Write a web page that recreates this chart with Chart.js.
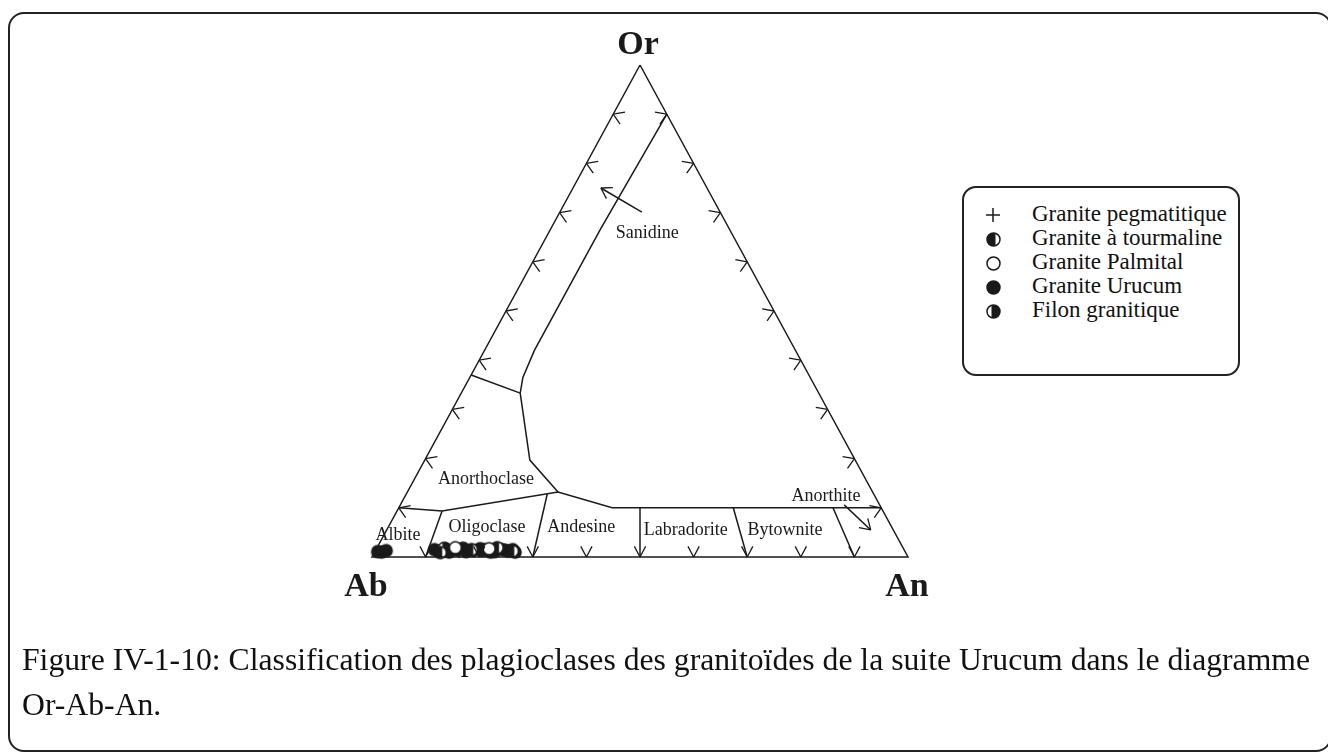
<!DOCTYPE html>
<html>
<head>
<meta charset="utf-8">
<script src="https://cdn.jsdelivr.net/npm/chart.js"></script>
<style>
  html, body { margin: 0; padding: 0; background: #fff; }
  #page { position: relative; width: 1328px; height: 754px; overflow: hidden; background: #fff;
          font-family: "Liberation Serif", "DejaVu Serif", serif; color: #111; }
  #frame { position: absolute; left: 8px; top: 12px; width: 1320px; height: 736px;
           border: 2px solid #222; border-radius: 16px; }
  #chart { position: absolute; left: 0; top: 0; }
  #legend { position: absolute; left: 962px; top: 186px; width: 274px; height: 186px;
            border: 2px solid #222; border-radius: 14px; background: #fff; }
  .item { position: absolute; left: 0; width: 274px; height: 24px; font-size: 23px; line-height: 24px; }
  .item canvas { position: absolute; }
  .item span { position: absolute; left: 68px; white-space: nowrap; }
  #caption { position: absolute; left: 22px; top: 637px; font-size: 31.7px; line-height: 45px; white-space: nowrap; }
</style>
</head>
<body>
<div id="page">
  <div id="frame"></div>
  <canvas id="chart" width="1328" height="754"></canvas>
  <div id="legend"></div>
  <div id="caption">Figure IV-1-10: Classification des plagioclases des granitoïdes de la suite Urucum dans le diagramme<br>Or-Ab-An.</div>
</div>
<script>
// pôles du diagramme
const apexNames = ['Or', 'Ab', 'An'];

// champs (noms + position des étiquettes en % Or / % An)
const fieldNames = ['Sanidine', 'Anorthoclase', 'Albite', 'Oligoclase', 'Andesine', 'Labradorite', 'Bytownite', 'Anorthite'];
const fieldOr = [65.9, 15.9, 4.5, 6.1, 6.1, 5.5, 5.5, 12.4];
const fieldAn = [18.4, 13.3, 2.6, 18.4, 36.0, 55.8, 74.3, 78.5];

// graduations (%) sur les trois côtés
const tickSteps = [10, 20, 30, 40, 50, 60, 70, 80, 90];

// limites des champs (% Or, % An)
const triangleOr = [100, 0, 0, 100];
const triangleAn = [0, 0, 100, 0];
const sanidineOr = [90, 66.5, 42, 36.5, 33.3];
const sanidineAn = [10, 9.3, 9.3, 9.9, 11];
const anorthoclaseLeftOr = [37, 33.3];
const anorthoclaseLeftAn = [0, 11];
const anorthoclaseRightOr = [33.3, 19.7, 13.2];
const anorthoclaseRightAn = [11, 19.6, 28.1];
const plagioclaseTopOr = [10, 9.35, 13.2, 10, 10];
const plagioclaseTopAn = [0, 8.4, 28.1, 39.8, 90];
const dividerTopOr = [9.35, 12.8, 10, 10, 10];
const dividerTopAn = [8.4, 26.3, 45, 62.4, 81];
const dividerBaseAn = [10, 30, 50, 70, 90];
const sanidineArrowOr = [70.1, 75];
const sanidineArrowAn = [15.3, 5.2];
const anorthiteArrowOr = [10.6, 5.5];
const anorthiteArrowAn = [82.8, 90.3];

// échantillons (% Or, % An)
const pegmatiteOr = [1.0];
const pegmatiteAn = [15.8];
const tourmalineOr = [0.9, 1.5, 1.9, 1.2];
const tourmalineAn = [12.3, 17.8, 22.4, 25.6];
const palmitalOr = [1.9, 1.7];
const palmitalAn = [14.6, 21.0];
const urucumOr = [1.1, 1.0, 1.3, 1.5, 1.2, 1.6, 1.0, 1.4, 1.8, 1.1, 1.3, 1.7, 1.5, 1.0, 1.1, 1.6, 1.4, 1.2, 1.5, 1.0, 1.3];
const urucumAn = [0.5, 1.3, 2.0, 10.9, 11.8, 13.0, 13.9, 15.2, 16.1, 17.0, 18.2, 19.3, 20.1, 21.6, 22.3, 23.2, 24.1, 24.8, 25.5, 26.2, 19.8];
const filonOr = [1.8];
const filonAn = [12.6];

const INK = '#1a1a1a';

// coordonnées ternaires -> x/y
const toXY = (or, an) => ({ x: an + or / 2, y: or });
const line = (orArr, anArr) => orArr.map((o, i) => toXY(o, anArr[i]));

// symboles dessinés sur un petit canvas
function makeMarker(kind, r) {
    const s = Math.ceil(r * 2 + 4);
    const c = document.createElement('canvas');
    c.width = s; c.height = s;
    const g = c.getContext('2d');
    const m = s / 2;
    g.strokeStyle = INK; g.fillStyle = INK; g.lineWidth = 1.5;
    if (kind === 'plus') {
        g.beginPath();
        g.moveTo(m - r, m); g.lineTo(m + r, m);
        g.moveTo(m, m - r); g.lineTo(m, m + r);
        g.stroke();
        return c;
    }
    g.fillStyle = '#fff';
    g.beginPath(); g.arc(m, m, r, 0, Math.PI * 2); g.fill();
    g.fillStyle = INK;
    if (kind === 'filled') {
        g.beginPath(); g.arc(m, m, r, 0, Math.PI * 2); g.fill();
    } else if (kind === 'halfLeft') {
        g.beginPath(); g.arc(m, m, r, Math.PI * 0.4, Math.PI * 1.6); g.closePath(); g.fill();
    } else if (kind === 'halfRight') {
        g.beginPath(); g.arc(m, m, r, -Math.PI * 0.6, Math.PI * 0.6); g.closePath(); g.fill();
    }
    g.beginPath(); g.arc(m, m, r, 0, Math.PI * 2); g.stroke();
    return c;
}

const series = [
    { label: 'Granite pegmatitique', kind: 'plus', or: pegmatiteOr, an: pegmatiteAn },
    { label: 'Granite à tourmaline', kind: 'halfLeft', or: tourmalineOr, an: tourmalineAn },
    { label: 'Granite Palmital', kind: 'open', or: palmitalOr, an: palmitalAn },
    { label: 'Granite Urucum', kind: 'filled', or: urucumOr, an: urucumAn },
    { label: 'Filon granitique', kind: 'halfRight', or: filonOr, an: filonAn }
];

function boundary(orArr, anArr) {
    return {
        data: line(orArr, anArr),
        showLine: true,
        borderColor: INK,
        borderWidth: 1.5,
        pointRadius: 0,
        tension: 0,
        clip: false
    };
}

const datasets = [
    boundary(triangleOr, triangleAn),
    boundary(sanidineOr, sanidineAn),
    boundary(anorthoclaseLeftOr, anorthoclaseLeftAn),
    boundary(anorthoclaseRightOr, anorthoclaseRightAn),
    boundary(plagioclaseTopOr, plagioclaseTopAn),
    boundary(sanidineArrowOr, sanidineArrowAn),
    boundary(anorthiteArrowOr, anorthiteArrowAn)
];
dividerTopOr.forEach((o, i) => {
    datasets.push(boundary([o, 0], [dividerTopAn[i], dividerBaseAn[i]]));
});
// les symboles ouverts d'abord, les pleins par-dessus
[2, 0, 1, 4, 3].forEach(k => {
    const s = series[k];
    datasets.push({
        label: s.label,
        data: line(s.or, s.an),
        pointStyle: makeMarker(s.kind, 6),
        pointRadius: 6,
        showLine: false,
        clip: false
    });
});

// flèches, graduations et textes du diagramme
const ternaryDecor = {
    id: 'ternaryDecor',
    afterDatasetsDraw(chart) {
        const { ctx, scales: { x, y } } = chart;
        const px = (or, an) => [x.getPixelForValue(an + or / 2), y.getPixelForValue(or)];
        const L = 12;
        const deg = Math.PI / 180;

        ctx.save();
        ctx.strokeStyle = INK;
        ctx.lineWidth = 1.3;

        function chevron(p, angles) {
            ctx.beginPath();
            angles.forEach(a => {
                ctx.moveTo(p[0], p[1]);
                ctx.lineTo(p[0] + L * Math.cos(a * deg), p[1] + L * Math.sin(a * deg));
            });
            ctx.stroke();
        }

        tickSteps.forEach(t => {
            chevron(px(t, 0), [-10, 55]);          // côté Or-Ab
            chevron(px(t, 100 - t), [190, 125]);   // côté Or-An
            chevron(px(0, t), [-62, -118]);        // côté Ab-An
        });

        // pointes des flèches
        [[sanidineArrowOr, sanidineArrowAn], [anorthiteArrowOr, anorthiteArrowAn]].forEach(([o, a]) => {
            const p0 = px(o[0], a[0]);
            const p1 = px(o[1], a[1]);
            const ang = Math.atan2(p0[1] - p1[1], p0[0] - p1[0]) / deg;
            chevron(p1, [ang - 32, ang + 32]);
        });

        // noms des champs
        ctx.fillStyle = INK;
        ctx.textAlign = 'center';
        ctx.textBaseline = 'middle';
        ctx.font = '18px "Liberation Serif", serif';
        fieldNames.forEach((n, i) => {
            const p = px(fieldOr[i], fieldAn[i]);
            ctx.fillText(n, p[0], p[1]);
        });

        // pôles
        ctx.font = 'bold 34px "Liberation Serif", serif';
        const poles = [px(100, 0), px(0, 0), px(0, 100)];
        const offs = [[-2, -20], [-6, 30], [-1, 30]];
        apexNames.forEach((n, i) => {
            ctx.fillText(n, poles[i][0] + offs[i][0], poles[i][1] + offs[i][1]);
        });
        ctx.restore();
    }
};

new Chart(document.getElementById('chart').getContext('2d'), {
    type: 'scatter',
    data: { datasets: datasets },
    options: {
        responsive: false,
        animation: false,
        layout: { padding: { left: 372, right: 420, top: 65, bottom: 197 } },
        scales: {
            x: { type: 'linear', min: 0, max: 100, display: false },
            y: { type: 'linear', min: 0, max: 100, display: false }
        },
        plugins: {
            legend: { display: false },
            tooltip: { enabled: false }
        }
    },
    plugins: [ternaryDecor]
});

// légende à droite
const legendBox = document.getElementById('legend');
series.forEach((s, i) => {
    const item = document.createElement('div');
    item.className = 'item';
    item.style.top = (14 + i * 24) + 'px';
    const sym = makeMarker(s.kind, s.kind === 'plus' ? 7 : 6.5);
    sym.style.left = (29 - sym.width / 2) + 'px';
    sym.style.top = (13 - sym.height / 2) + 'px';
    const txt = document.createElement('span');
    txt.textContent = s.label;
    item.appendChild(sym);
    item.appendChild(txt);
    legendBox.appendChild(item);
});
</script>
</body>
</html>
